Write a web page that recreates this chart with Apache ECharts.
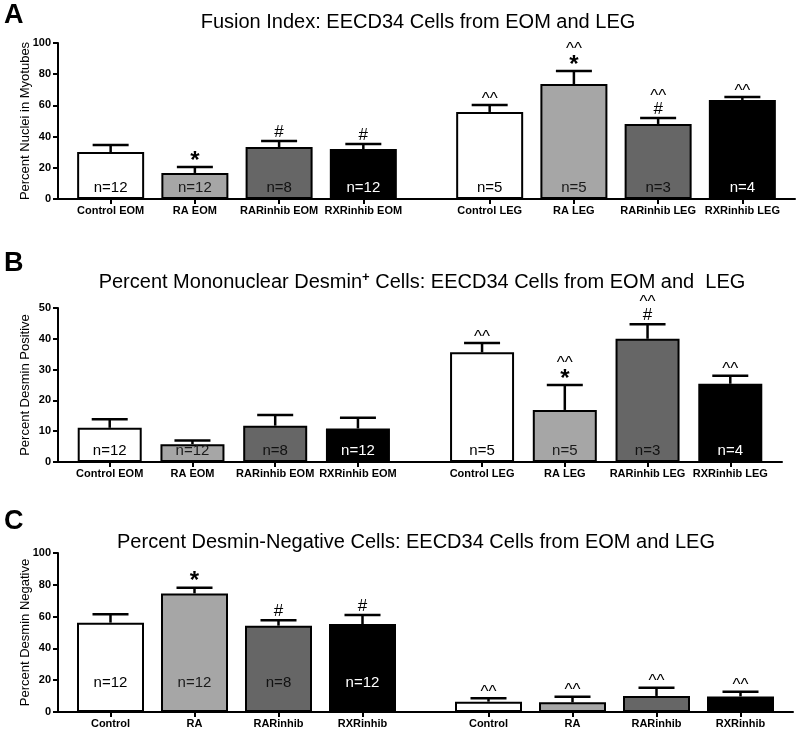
<!DOCTYPE html>
<html>
<head>
<meta charset="utf-8">
<script src="https://cdn.jsdelivr.net/npm/echarts@6.0.0/dist/echarts.min.js"></script>
<style>
html,body{margin:0;padding:0;background:#fff;}
#chart{width:800px;height:743px;}
</style>
</head>
<body>
<div id="chart"></div>
<script>
// ---------- data ----------
const catsA = ['Control EOM','RA EOM','RARinhib EOM','RXRinhib EOM','Control LEG','RA LEG','RARinhib LEG','RXRinhib LEG'];
const meanA = [30.1, 16.7, 33.3, 32.0, 55.8, 73.7, 48.1, 63.5];
const errA  = [4.5, 3.8, 3.9, 3.3, 4.4, 8.3, 3.8, 1.9];
const nA    = ['n=12','n=12','n=8','n=12','n=5','n=5','n=3','n=4'];
const sigA  = ['','*','#','#','^^','^^\n*','^^\n#','^^'];

const catsB = ['Control EOM','RA EOM','RARinhib EOM','RXRinhib EOM','Control LEG','RA LEG','RARinhib LEG','RXRinhib LEG'];
const meanB = [11.1, 5.8, 11.8, 10.9, 35.6, 16.9, 40.0, 25.4];
const errB  = [2.8, 1.2, 3.5, 3.5, 3.0, 8.1, 4.7, 2.6];
const nB    = ['n=12','n=12','n=8','n=12','n=5','n=5','n=3','n=4'];
const sigB  = ['','','','','^^','^^\n*','^^\n#','^^'];

const catsC = ['Control','RA','RARinhib','RXRinhib','Control','RA','RARinhib','RXRinhib'];
const meanC = [56.2, 74.6, 54.3, 55.3, 6.5, 6.1, 10.1, 9.8];
const errC  = [5.2, 3.6, 3.4, 5.7, 2.1, 3.5, 5.2, 3.0];
const nC    = ['n=12','n=12','n=8','n=12','','','',''];
const sigC  = ['','*','#','#','^^','^^','^^','^^'];

const titleA = 'Fusion Index: EECD34 Cells from EOM and LEG';
const titleC = 'Percent Desmin-Negative Cells: EECD34 Cells from EOM and LEG';
const yNameA = 'Percent Nuclei in Myotubes';
const yNameB = 'Percent Desmin Positive';
const yNameC = 'Percent Desmin Negative';

// ---------- layout / style ----------
const FONT = '"Liberation Sans", Arial, sans-serif';
const SLOT_COUNT = 35;
const BAR_SLOTS = [2, 6, 10, 14, 20, 24, 28, 32];
const FILLS = ['#ffffff', '#a6a6a6', '#666666', '#000000'];
const NCOLORS = ['#000000', '#1a1a1a', '#111111', '#ffffff'];

const panels = [
  {cats: catsA, mean: meanA, err: errA, n: nA, sig: sigA, yName: yNameA,
   grid: {left: 58, top: 43, width: 737, height: 156}, ymax: 100, yint: 20, barWidth: 67, nDist: 4},
  {cats: catsB, mean: meanB, err: errB, n: nB, sig: sigB, yName: yNameB,
   grid: {left: 58, top: 308, width: 724, height: 154}, ymax: 50, yint: 10, barWidth: 64, nDist: 4},
  {cats: catsC, mean: meanC, err: errC, n: nC, sig: sigC, yName: yNameC,
   grid: {left: 58, top: 553, width: 735, height: 159}, ymax: 100, yint: 20, barWidth: 67, nDist: 22}
];

const SIG_RICH = {
  star:  {fontSize: 24, fontWeight: 'bold', fontFamily: FONT, fill: '#000', lineHeight: 16, padding: [0, 0, -6, 0]},
  hash:  {fontSize: 17, fontFamily: FONT, fill: '#000', lineHeight: 16},
  caret: {fontSize: 17, fontFamily: FONT, fill: '#000', lineHeight: 15, padding: [0, 0, -5, 0]}
};
function sigToRich(s) {
  return s.split('\n').map(function (line) {
    const k = line.indexOf('*') >= 0 ? 'star' : (line.indexOf('#') >= 0 ? 'hash' : 'caret');
    return '{' + k + '|' + line + '}';
  }).join('\n');
}

const grids = [], xAxes = [], yAxes = [], series = [];

function makeErr(sig) {
  return function (params, api) {
    const x = api.value(0), m = api.value(1), e = api.value(2);
    const p0 = api.coord([x, m]);
    const p1 = api.coord([x, m + e]);
    const hw = 18;
    const children = [
      {type: 'line', shape: {x1: p0[0], y1: p0[1], x2: p1[0], y2: p1[1]}, style: {stroke: '#000', lineWidth: 2.5}},
      {type: 'line', shape: {x1: p1[0] - hw, y1: p1[1], x2: p1[0] + hw, y2: p1[1]}, style: {stroke: '#000', lineWidth: 2.5}}
    ];
    const s = sig[params.dataIndex];
    if (s) {
      children.push({type: 'text', x: p1[0], y: p1[1] - 1,
        style: {text: sigToRich(s), align: 'center', verticalAlign: 'bottom', rich: SIG_RICH, fill: '#000'}});
    }
    return {type: 'group', children: children};
  };
}

panels.forEach(function (p, idx) {
  grids.push(Object.assign({containLabel: false}, p.grid));
  const slotNames = Array.from({length: SLOT_COUNT}, function (_, i) { return 's' + i; });
  xAxes.push({
    gridIndex: idx, type: 'category', data: slotNames, boundaryGap: true,
    axisLine: {show: true, lineStyle: {color: '#000', width: 2}},
    axisTick: {show: true, alignWithLabel: true, length: 5, lineStyle: {color: '#000', width: 2},
               interval: function (i) { return BAR_SLOTS.indexOf(i) >= 0; }},
    axisLabel: {interval: 0, margin: 6, fontSize: 11, fontWeight: 'bold', color: '#000', fontFamily: FONT,
                formatter: function (v, i) { const k = BAR_SLOTS.indexOf(i); return k >= 0 ? p.cats[k] : ''; }},
    splitLine: {show: false}
  });
  yAxes.push({
    gridIndex: idx, type: 'value', min: 0, max: p.ymax, interval: p.yint,
    name: p.yName, nameLocation: 'middle', nameGap: 26, nameMoveOverlap: false,
    nameTextStyle: {fontSize: 13, color: '#000', fontFamily: FONT},
    axisLine: {show: true, lineStyle: {color: '#000', width: 2}},
    axisTick: {show: true, length: 5, lineStyle: {color: '#000', width: 2}},
    axisLabel: {margin: 7, fontSize: 11, fontWeight: 'bold', color: '#000', fontFamily: FONT},
    splitLine: {show: false}
  });
  series.push({
    type: 'bar', xAxisIndex: idx, yAxisIndex: idx, barWidth: p.barWidth, z: 2,
    data: p.mean.map(function (v, k) {
      return {value: [BAR_SLOTS[k], v],
              itemStyle: {color: FILLS[k % 4], borderColor: '#000', borderWidth: 2},
              label: {color: NCOLORS[k % 4]}};
    }),
    label: {show: true, position: 'insideBottom', distance: p.nDist, fontSize: 15, fontFamily: FONT,
            formatter: function (prm) { return p.n[prm.dataIndex]; }},
    emphasis: {disabled: true}
  });
  series.push({
    type: 'custom', xAxisIndex: idx, yAxisIndex: idx, z: 5, clip: false,
    renderItem: makeErr(p.sig),
    data: p.mean.map(function (v, k) { return [BAR_SLOTS[k], v, p.err[k]]; })
  });
});

const graphics = [
  {type: 'text', x: 4, y: 2, style: {text: 'A', fontSize: 27, fontWeight: 'bold', fontFamily: FONT, fill: '#000'}},
  {type: 'text', x: 418, y: 22, style: {text: titleA, align: 'center', verticalAlign: 'middle', fontSize: 20, fontFamily: FONT, fill: '#000'}},
  {type: 'text', x: 4, y: 250, style: {text: 'B', fontSize: 27, fontWeight: 'bold', fontFamily: FONT, fill: '#000'}},
  {type: 'text', x: 422, y: 282, style: {
     text: '{a|Percent Mononuclear Desmin}{s|+}{a| Cells: EECD34 Cells from EOM and  LEG}',
     align: 'center', verticalAlign: 'middle',
     rich: {a: {fontSize: 20, fontFamily: FONT, fill: '#000', lineHeight: 22},
            s: {fontSize: 13, fontWeight: 'bold', fontFamily: FONT, fill: '#000', verticalAlign: 'top', lineHeight: 22, padding: [0, 0, 8, 0]}}}},
  {type: 'text', x: 4, y: 508, style: {text: 'C', fontSize: 27, fontWeight: 'bold', fontFamily: FONT, fill: '#000'}},
  {type: 'text', x: 416, y: 542, style: {text: titleC, align: 'center', verticalAlign: 'middle', fontSize: 20, fontFamily: FONT, fill: '#000'}}
];

const chart = echarts.init(document.getElementById('chart'), null, {renderer: 'canvas'});
chart.setOption({
  animation: false,
  backgroundColor: '#ffffff',
  textStyle: {fontFamily: FONT},
  grid: grids, xAxis: xAxes, yAxis: yAxes, series: series, graphic: graphics
});
</script>
</body>
</html>
